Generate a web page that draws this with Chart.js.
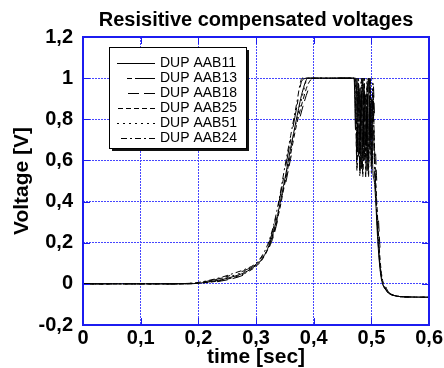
<!DOCTYPE html>
<html>
<head>
<meta charset="utf-8">
<script src="https://cdn.jsdelivr.net/npm/chart.js@4/dist/chart.umd.min.js"></script>
<style>
  html, body { margin: 0; padding: 0; background: #fff; }
  canvas { display: block; }
</style>
</head>
<body>
<canvas id="voltChart" width="444" height="368"></canvas>
<script>
// time axis shared by all runs [sec]
const times = [0, 0.1, 0.15, 0.18, 0.2, 0.22, 0.24, 0.26, 0.28, 0.3,
  0.31, 0.32, 0.33, 0.34, 0.35, 0.36, 0.37, 0.38, 0.39, 0.4, 0.41,
  0.44, 0.47,
  0.4725, 0.475, 0.4775, 0.48, 0.4825, 0.485, 0.4875, 0.49, 0.4925, 0.495, 0.4975, 0.5, 0.5025, 0.505,
  0.5075, 0.51, 0.5125, 0.515, 0.5175, 0.52, 0.525, 0.53, 0.54, 0.55, 0.57, 0.6];

const seriesNames = ['DUP AAB11', 'DUP AAB13', 'DUP AAB18', 'DUP AAB25', 'DUP AAB51', 'DUP AAB24'];

const aab11 = [0, 0, 0, 0, 0.003, 0.01, 0.02, 0.035, 0.055, 0.09,
  0.12, 0.17, 0.25, 0.37, 0.51, 0.66, 0.80, 0.93, 1, 1, 1,
  1, 1,
  0.75, 1, 0.62, 0.95, 0.56, 1, 0.6, 0.92, 0.55, 1, 0.65, 0.9, 0.55, 0.5,
  0.4, 0.26, 0.15, 0.07, 0.02, -0.005, -0.03, -0.045, -0.057, -0.062, -0.064, -0.065];
const aab13 = [0, 0, 0, 0.002, 0.006, 0.015, 0.028, 0.045, 0.065, 0.095,
  0.13, 0.18, 0.27, 0.40, 0.55, 0.70, 0.85, 0.99, 1, 1, 1,
  1, 1,
  0.9, 0.58, 1, 0.55, 0.93, 0.62, 1, 0.52, 0.96, 0.6, 1, 0.57, 0.9, 0.6,
  0.45, 0.3, 0.18, 0.09, 0.03, 0, -0.028, -0.045, -0.057, -0.062, -0.064, -0.065];
const aab18 = [0, 0, 0, 0, 0.002, 0.006, 0.014, 0.026, 0.045, 0.08,
  0.11, 0.16, 0.23, 0.34, 0.47, 0.61, 0.74, 0.85, 0.94, 1, 1,
  1, 1,
  1, 0.7, 0.96, 0.54, 1, 0.58, 0.88, 0.6, 1, 0.53, 0.95, 0.62, 1, 0.85,
  0.62, 0.45, 0.3, 0.17, 0.08, 0.03, -0.015, -0.04, -0.056, -0.062, -0.064, -0.065];
const aab25 = [0, 0, 0, 0, 0.003, 0.008, 0.017, 0.03, 0.05, 0.085,
  0.115, 0.165, 0.24, 0.35, 0.49, 0.63, 0.77, 0.88, 0.97, 1, 1,
  1, 1,
  0.85, 0.55, 1, 0.6, 0.9, 0.52, 1, 0.65, 0.92, 0.56, 1, 0.6, 0.95, 0.7,
  0.5, 0.36, 0.23, 0.12, 0.05, 0.01, -0.025, -0.045, -0.057, -0.062, -0.064, -0.065];
const aab51 = [0, 0, 0, 0.001, 0.005, 0.012, 0.024, 0.04, 0.06, 0.09,
  0.12, 0.17, 0.25, 0.36, 0.50, 0.65, 0.79, 0.91, 1, 1, 1,
  1, 1,
  0.95, 0.6, 0.88, 0.52, 1, 0.66, 0.94, 0.55, 1, 0.6, 0.9, 0.54, 1, 0.65,
  0.48, 0.33, 0.2, 0.1, 0.04, 0.005, -0.027, -0.045, -0.057, -0.062, -0.064, -0.065];
const aab24 = [0, 0, 0, 0.002, 0.007, 0.018, 0.032, 0.05, 0.07, 0.1,
  0.135, 0.19, 0.28, 0.41, 0.57, 0.72, 0.87, 1, 1, 1, 1,
  1, 1,
  1, 0.64, 0.92, 0.57, 1, 0.54, 0.97, 0.62, 0.9, 0.52, 1, 0.58, 0.93, 0.62,
  0.44, 0.29, 0.17, 0.08, 0.025, -0.003, -0.03, -0.046, -0.057, -0.062, -0.064, -0.065];

const xTickLabels = ['0', '0,1', '0,2', '0,3', '0,4', '0,5', '0,6'];
const yTickLabels = ['-0,2', '0', '0,2', '0,4', '0,6', '0,8', '1', '1,2'];

const seriesValues = [aab11, aab13, aab18, aab25, aab51, aab24];
const dashStyles = [[], [20, 3, 5, 12], [11, 5, 11, 40], [5, 3], [2, 4], [6, 3, 2, 3]];
const legendLens = [38, 28, 28, 38, 38, 36];

const axisFont = 'Liberation Sans, Arial, sans-serif';
const gridBlue = '#4646ff';
const frameBlue = '#1c1cf0';

// blue frame with inward ticks on all four sides
const framePlugin = {
    id: 'framePlugin',
    afterDatasetsDraw(chart) {
        const ctx = chart.ctx;
        const {left, right, top, bottom} = chart.chartArea;
        const xs = chart.scales.x, ys = chart.scales.y;
        ctx.save();
        ctx.strokeStyle = frameBlue;
        ctx.lineWidth = 1;
        ctx.beginPath();
        xs.ticks.forEach(t => {
            const px = Math.round(xs.getPixelForValue(t.value)) + 0.5;
            ctx.moveTo(px, bottom); ctx.lineTo(px, bottom - 7);
            ctx.moveTo(px, top); ctx.lineTo(px, top + 7);
        });
        ys.ticks.forEach(t => {
            const py = Math.round(ys.getPixelForValue(t.value)) + 0.5;
            ctx.moveTo(left, py); ctx.lineTo(left + 7, py);
            ctx.moveTo(right, py); ctx.lineTo(right - 7, py);
        });
        ctx.stroke();
        ctx.lineWidth = 2;
        ctx.strokeRect(Math.round(left), Math.round(top), Math.round(right - left), Math.round(bottom - top));
        ctx.restore();
    }
};

// boxed legend with drop shadow inside the plot
const legendBoxPlugin = {
    id: 'legendBoxPlugin',
    afterDraw(chart) {
        const ctx = chart.ctx;
        const bx = 109, by = 47, bw = 137, bh = 101;
        ctx.save();
        ctx.fillStyle = '#111';
        ctx.fillRect(bx + 3, by + 3, bw, bh);
        ctx.fillStyle = '#fff';
        ctx.fillRect(bx, by, bw, bh);
        ctx.strokeStyle = '#000';
        ctx.lineWidth = 1;
        ctx.strokeRect(bx + 0.5, by + 0.5, bw, bh);

        ctx.font = '14px ' + axisFont;
        ctx.textBaseline = 'middle';
        ctx.textAlign = 'left';
        chart.data.datasets.forEach((ds, i) => {
            const y = Math.round(63 + i * 15) + 0.5;
            ctx.setLineDash(ds.borderDash);
            ctx.beginPath();
            ctx.moveTo(155, y);
            ctx.lineTo(155 - legendLens[i], y);
            ctx.stroke();
            ctx.setLineDash([]);
            ctx.fillStyle = '#000';
            ctx.fillText(ds.label, 160, y);
        });
        ctx.restore();
    }
};

const datasets = seriesNames.map((name, i) => ({
    label: name,
    data: times.map((t, j) => ({x: t, y: seriesValues[i][j]})),
    borderColor: '#000',
    borderWidth: 1,
    borderDash: dashStyles[i],
    pointRadius: 0,
    fill: false,
    cubicInterpolationMode: 'monotone'
}));

new Chart(document.getElementById('voltChart').getContext('2d'), {
    type: 'line',
    data: {datasets: datasets},
    options: {
        responsive: false,
        animation: false,
        devicePixelRatio: 1,
        layout: {padding: {left: 0, right: 14, top: 0, bottom: 0}},
        plugins: {
            legend: {display: false},
            tooltip: {enabled: false},
            title: {
                display: true,
                fullSize: false,
                text: 'Resisitive compensated voltages',
                color: '#000',
                font: {family: axisFont, size: 20, weight: 'bold', lineHeight: 1.2},
                padding: {top: 8, bottom: 5}
            }
        },
        scales: {
            x: {
                type: 'linear',
                min: 0, max: 0.6,
                afterFit(scale) { scale.height = 43; },
                ticks: {
                    stepSize: 0.1,
                    color: '#000',
                    font: {family: axisFont, size: 20, weight: 'bold'},
                    padding: 1,
                    maxRotation: 0,
                    callback: (v, i) => xTickLabels[i]
                },
                grid: {color: gridBlue, lineWidth: 1, drawTicks: false},
                border: {display: false, dash: [2, 1]},
                title: {
                    display: true,
                    text: 'time [sec]',
                    color: '#000',
                    font: {family: axisFont, size: 21, weight: 'bold', lineHeight: 1.0},
                    padding: {top: 0, bottom: 0}
                }
            },
            y: {
                min: -0.2, max: 1.2,
                afterFit(scale) { scale.width = 83; },
                ticks: {
                    stepSize: 0.2,
                    color: '#000',
                    font: {family: axisFont, size: 20, weight: 'bold'},
                    padding: 10,
                    callback: (v, i) => yTickLabels[i]
                },
                grid: {color: gridBlue, lineWidth: 1, drawTicks: false},
                border: {display: false, dash: [2, 1]},
                title: {
                    display: true,
                    text: 'Voltage [V]',
                    color: '#000',
                    font: {family: axisFont, size: 21, weight: 'bold', lineHeight: 1.0},
                    padding: {top: 12, bottom: 0}
                }
            }
        }
    },
    plugins: [framePlugin, legendBoxPlugin]
});
</script>
</body>
</html>
